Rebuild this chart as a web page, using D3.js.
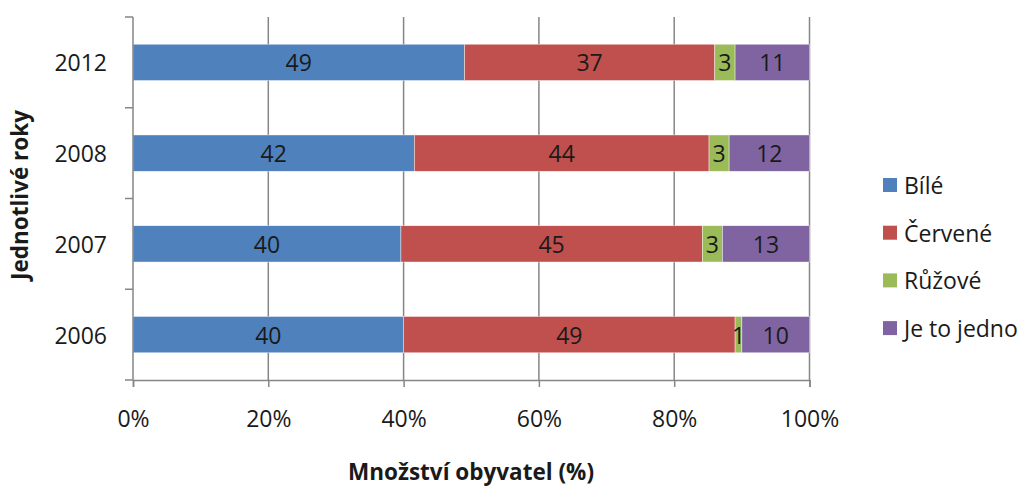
<!DOCTYPE html>
<html><head><meta charset="utf-8">
<script src="https://cdn.jsdelivr.net/npm/d3@7"></script>
<style>body{margin:0;background:#fff}svg{display:block}text{font-family:"Open Sans",sans-serif}</style>
</head><body><svg id="c" width="1023" height="487"></svg>
<script>
const years = ["2012","2008","2007","2006"];
const seriesNames = ["Bílé","Červené","Růžové","Je to jedno"];
const bile    = [49,42,40,40];
const cervene = [37,44,45,49];
const ruzove  = [3,3,3,1];
const jedno   = [11,12,13,10];
const colors = ["#4F81BD","#C0504D","#9BBB59","#8064A2"];
const xTicks = [0,0.2,0.4,0.6,0.8,1];

const svg = d3.select("#c");
const rows = years.map((y,i)=>({year:y,"Bílé":bile[i],"Červené":cervene[i],"Růžové":ruzove[i],"Je to jedno":jedno[i]}));
const stack = d3.stack().keys(seriesNames).offset(d3.stackOffsetExpand)(rows);

const x = d3.scaleLinear().domain([0,1]).range([133,809.5]);
const y = d3.scaleBand().domain(years).range([17,380]).paddingInner(0.6).paddingOuter(0.3);
const axisColor = "#868686";
const txt = "#1a1a1a";
const fs = 23;

// gridlines
svg.append("g").selectAll("line").data(xTicks.slice(1)).join("line")
  .attr("x1",d=>x(d)).attr("x2",d=>x(d)).attr("y1",17).attr("y2",380)
  .attr("stroke",axisColor).attr("stroke-width",1.5);

// bars
const g = svg.append("g");
stack.forEach((s,si)=>{
  g.append("g").selectAll("rect").data(s).join("rect")
    .attr("x",d=>x(d[0])).attr("width",d=>x(d[1])-x(d[0]))
    .attr("y",d=>y(d.data.year)).attr("height",y.bandwidth())
    .attr("fill",colors[si]).attr("stroke","#fff").attr("stroke-width",0.6).attr("stroke-opacity",0.7);
  g.append("g").selectAll("text").data(s).join("text")
    .attr("x",d=>(x(d[0])+x(d[1]))/2).attr("y",d=>y(d.data.year)+y.bandwidth()/2)
    .attr("text-anchor","middle").attr("dominant-baseline","central")
    .attr("font-size",fs).attr("fill",txt)
    .text(d=>d.data[seriesNames[si]]);
});

// x axis
const xAxis = svg.append("g").attr("transform","translate(0,380)")
  .call(d3.axisBottom(x).tickValues(xTicks).tickFormat(d3.format(".0%")).tickSize(7).tickPadding(24));
xAxis.select(".domain").attr("stroke",axisColor).attr("stroke-width",1.5);
xAxis.selectAll(".tick line").attr("stroke",axisColor).attr("stroke-width",1.5);
xAxis.selectAll("text").attr("font-size",fs).attr("fill",txt).attr("font-family","'Open Sans',sans-serif");

// y axis
svg.append("line").attr("x1",133).attr("x2",133).attr("y1",17).attr("y2",380).attr("stroke",axisColor).attr("stroke-width",1.5);
const bounds = years.map(d=>y(d)-y.step()*y.paddingInner()/2).concat([380]);
svg.append("g").selectAll("line").data(bounds).join("line")
  .attr("x1",125).attr("x2",133).attr("y1",d=>d).attr("y2",d=>d)
  .attr("stroke",axisColor).attr("stroke-width",1.5);
svg.append("g").selectAll("text").data(years).join("text")
  .attr("x",107).attr("y",d=>y(d)+y.bandwidth()/2)
  .attr("text-anchor","end").attr("dominant-baseline","central")
  .attr("font-size",fs).attr("fill",txt).text(d=>d);

// axis titles
svg.append("text").attr("x",471).attr("y",471).attr("text-anchor","middle").attr("dominant-baseline","central")
  .attr("font-size",22.5).attr("font-weight","bold").attr("fill",txt).text("Množství obyvatel (%)");
svg.append("text").attr("transform","translate(19,195) rotate(-90)").attr("text-anchor","middle").attr("dominant-baseline","central")
  .attr("font-size",22.5).attr("font-weight","bold").attr("fill",txt).text("Jednotlivé roky");

// legend
const lg = svg.append("g").selectAll("g").data(seriesNames).join("g")
  .attr("transform",(d,i)=>`translate(883,${185+i*47.7})`);
lg.append("rect").attr("x",0).attr("y",-7).attr("width",14).attr("height",14).attr("fill",(d,i)=>colors[i]);
lg.append("text").attr("x",21).attr("y",0).attr("dominant-baseline","central")
  .attr("font-size",fs).attr("fill",txt).text(d=>d);
</script></body></html>
